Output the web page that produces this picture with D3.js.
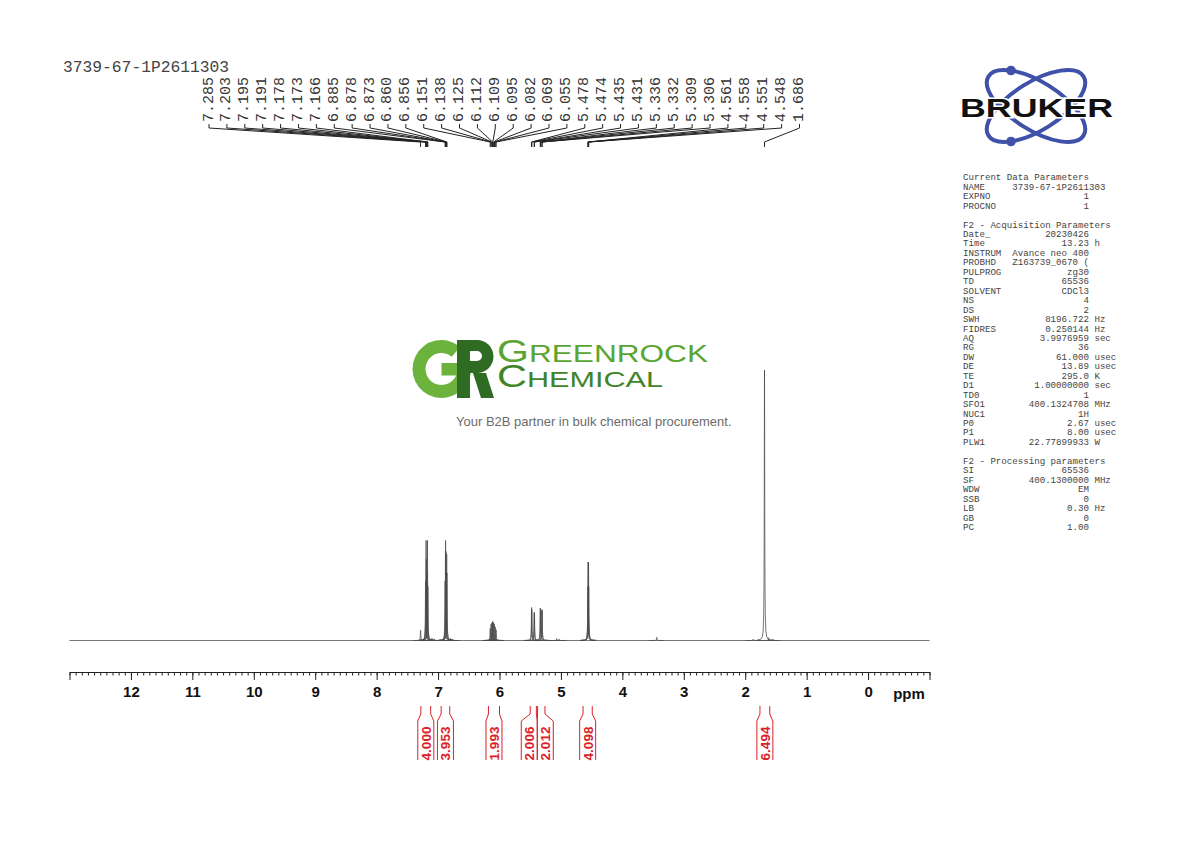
<!DOCTYPE html>
<html><head><meta charset="utf-8">
<script src="https://cdn.jsdelivr.net/npm/d3@7"></script>
<style>
html,body{margin:0;padding:0;background:#fff;}
svg{display:block;}
.mono{font-family:"Liberation Mono","DejaVu Sans Mono",monospace;}
.sans{font-family:"Liberation Sans",Arial,sans-serif;}
</style></head>
<body>
<svg id="c" width="1190" height="842" xmlns="http://www.w3.org/2000/svg"></svg>
<script>
// ---------------- data ----------------
const sampleName = "3739-67-1P2611303";

// peak picking labels (ppm)
const peakLabels = [7.285,7.203,7.195,7.191,7.178,7.173,7.166,6.885,6.878,6.873,6.860,6.856,
  6.151,6.138,6.125,6.112,6.109,6.095,6.082,6.069,6.055,5.478,5.474,5.435,5.431,
  5.336,5.332,5.309,5.306,4.561,4.558,4.551,4.548,1.686];

// spectrum lines: position (ppm) and intensity (relative, tallest = 100)
const peakPpm = [7.285,7.203,7.195,7.191,7.178,7.173,7.166,7.10,7.06,
  6.885,6.878,6.873,6.860,6.856,6.80,6.77,
  6.151,6.138,6.125,6.112,6.109,6.095,6.082,6.069,6.055,
  5.478,5.474,5.435,5.431,5.336,5.332,5.309,5.306,5.07,5.03,
  4.561,4.558,4.551,4.548,3.44,1.87,1.686,1.62,1.55];
const peakInt = [3.8,22,37,30,25,37,20,0.8,0.6,
  22,37,33,32,25,0.8,0.5,
  4.5,6,6.5,7,7,6.5,6,5,4,
  12.2,11.5,10.5,10,12,11.5,11.5,11,0.7,0.5,
  20,29,29,20,1.2,0.5,100,1.0,0.6];

// integrals
const integralFrom = [7.28,6.95,6.18,5.50,5.38,4.64,1.76];
const integralTo   = [7.12,6.81,6.00,5.40,5.26,4.49,1.60];
const integralVal  = ["4.000","3.953","1.993","2.006","2.012","4.098","6.494"];

// axis
const axisDomain = [13,-1];
const majorTicks = [12,11,10,9,8,7,6,5,4,3,2,1,0];

// parameter panel
const paramHead1 = "Current Data Parameters";
const paramRows1 = [["NAME","3739-67-1P2611303",""],["EXPNO","1",""],["PROCNO","1",""]];
const paramHead2 = "F2 - Acquisition Parameters";
const paramRows2 = [["Date_","20230426",""],["Time","13.23","h"],["INSTRUM","Avance neo 400",""],
  ["PROBHD","Z163739_0670 (",""],["PULPROG","zg30",""],["TD","65536",""],["SOLVENT","CDCl3",""],
  ["NS","4",""],["DS","2",""],["SWH","8196.722","Hz"],["FIDRES","0.250144","Hz"],
  ["AQ","3.9976959","sec"],["RG","36",""],["DW","61.000","usec"],["DE","13.89","usec"],
  ["TE","295.0","K"],["D1","1.00000000","sec"],["TD0","1",""],["SFO1","400.1324708","MHz"],
  ["NUC1","1H",""],["P0","2.67","usec"],["P1","8.00","usec"],["PLW1","22.77899933","W"]];
const paramHead3 = "F2 - Processing parameters";
const paramRows3 = [["SI","65536",""],["SF","400.1300000","MHz"],["WDW","EM",""],["SSB","0",""],
  ["LB","0.30","Hz"],["GB","0",""],["PC","1.00",""]];

// ---------------- drawing ----------------
const svg = d3.select("#c");
const x = d3.scaleLinear().domain(axisDomain).range([69.5, 929.5]);
const y = d3.scaleLinear().domain([0,100]).range([640.5, 370]);
const specColor = "#4a4a4a";

// title
svg.append("text").attr("class","mono").attr("x",63).attr("y",72)
  .style("font-size","16.3px").attr("fill","#444").text(sampleName);

// peak labels + connectors
const lx = d3.scaleLinear().domain([0, peakLabels.length-1]).range([209, 799.5]);
const gl = svg.append("g");
gl.selectAll("text").data(peakLabels).join("text").attr("class","mono")
  .attr("transform",(d,i)=>`translate(${lx(i)},122) rotate(-90)`)
  .attr("dominant-baseline","central").style("font-size","15px").attr("fill","#333")
  .text(d=>d.toFixed(3));
gl.selectAll("path").data(peakLabels).join("path")
  .attr("d",(d,i)=>`M${lx(i)},124V128L${x(d)},142V147`)
  .attr("fill","none").attr("stroke","#222").attr("stroke-width",1);

// spectrum baseline
const line = d3.line().x(d=>x(d[0])).y(d=>y(d[1]));
svg.append("path").attr("d", line([[axisDomain[0],0],[axisDomain[1],0]]))
  .attr("stroke","#555").attr("stroke-width",0.8).attr("fill","none");
// peaks (Lorentzian-shaped glyph at each line position)
const shapeK = [-30,-14,-8,-5,-3,-2,-1.4,-1,-0.6,-0.3,0,0.3,0.6,1,1.4,2,3,5,8,14,30];
const hw = 0.0042;
svg.append("g").selectAll("path").data(peakPpm.map((p,i)=>[p,peakInt[i]])).join("path")
  .attr("d", d => line(shapeK.map(k=>[d[0]+k*hw, d[1]/(1+k*k)])))
  .attr("stroke",specColor).attr("stroke-width",0.75).attr("fill","none");

// axis
const axisY = 672;
const gAx = svg.append("g").attr("transform",`translate(0,${axisY})`);
gAx.call(d3.axisBottom(x).tickValues(d3.range(-10,131).map(i=>i/10)).tickSize(3.5).tickFormat(""))
  .call(g=>g.select(".domain").remove());
const gMaj = svg.append("g").attr("transform",`translate(0,${axisY})`);
gMaj.call(d3.axisBottom(x).tickValues(majorTicks).tickSize(8).tickSizeOuter(8).tickPadding(6).tickFormat(d3.format("d")));
svg.selectAll(".tick line, .domain").attr("stroke","#222");
gMaj.selectAll("text").attr("class","sans").style("font-size","15px").style("font-weight","bold").attr("fill","#111");
svg.append("text").attr("class","sans").attr("x",909).attr("y",698.5).attr("text-anchor","middle")
  .style("font-size","15px").style("font-weight","bold").attr("fill","#111").text("ppm");

// integrals
const red = "#dc2128";
const cen = integralFrom.map((f,i)=>(x(f)+x(integralTo[i]))/2);
const half = 8;
for (let i=1;i<cen.length;i++){ const d=cen[i]-cen[i-1]; if(d<2*half){const s=(2*half-d)/2; cen[i-1]-=s; cen[i]+=s;} }
const gi = svg.append("g");
integralFrom.forEach((f,i)=>{
  const xa=x(f), xb=x(integralTo[i]), c=cen[i];
  gi.append("path").attr("d",`M${xa},706V714L${c-half},721V760M${xb},706V714L${c+half},721V760`)
    .attr("fill","none").attr("stroke",red).attr("stroke-width",1);
  gi.append("text").attr("class","sans").attr("transform",`translate(${c+0.5},743.5) rotate(-90)`)
    .attr("text-anchor","middle").attr("dominant-baseline","central")
    .style("font-size","13.5px").style("font-weight","bold").attr("fill",red).text(integralVal[i]);
});

// parameter panel
const rows = [];
rows.push(paramHead1);
paramRows1.forEach(r=>rows.push(r));
rows.push("");
rows.push(paramHead2);
paramRows2.forEach(r=>rows.push(r));
rows.push("");
rows.push(paramHead3);
paramRows3.forEach(r=>rows.push(r));
const fmt = r => typeof r==="string" ? r : (r[0].padEnd(9) + r[1].padStart(14) + (r[2] ? " "+r[2] : ""));
svg.append("g").selectAll("text").data(rows).join("text").attr("class","mono")
  .attr("x",963).attr("y",(d,i)=>180.3+i*9.45).attr("xml:space","preserve")
  .style("white-space","pre").style("font-size","9.13px").attr("fill","#444")
  .text(fmt);

// Bruker logo
const gb = svg.append("g");
[32,-32].forEach(a=>{
  gb.append("ellipse").attr("cx",1036).attr("cy",106).attr("rx",56).attr("ry",24)
    .attr("transform",`rotate(${a},1036,106)`).attr("fill","none").attr("stroke","#3f51a8").attr("stroke-width",4);
});
gb.append("circle").attr("cx",1011).attr("cy",70.5).attr("r",4.8).attr("fill","#3f51a8");
gb.append("circle").attr("cx",1011).attr("cy",141.5).attr("r",4.8).attr("fill","#3f51a8");
gb.append("text").attr("class","sans").attr("x",960).attr("y",117)
  .attr("textLength",153).attr("lengthAdjust","spacingAndGlyphs")
  .style("font-size","25.5px").style("font-weight","900")
  .attr("fill","#111").attr("stroke","#fff").attr("stroke-width",3).style("paint-order","stroke")
  .text("BRUKER");

// Greenrock watermark
const gg = svg.append("g");
const ring = d3.arc()({innerRadius:16,outerRadius:29,startAngle:Math.PI/2,endAngle:2*Math.PI+0.7});
gg.append("path").attr("d",ring).attr("transform","translate(441.5,369)").attr("fill","#6cb33e");
gg.append("rect").attr("x",441.5).attr("y",363).attr("width",29).attr("height",12.5).attr("fill","#6cb33e");
gg.append("path").attr("fill","#2f6b22").attr("fill-rule","evenodd")
  .attr("d","M457,340H477A16.5,16.5 0 0 1 477,373H470V398H457Z M470,351H477A5,5 0 0 1 477,361H470Z M473,373H486L494,398H481Z");
gg.append("text").attr("class","sans").attr("x",497).attr("y",362)
  .attr("textLength",211).attr("lengthAdjust","spacingAndGlyphs").attr("fill","#5aa532")
  .call(t=>{t.append("tspan").style("font-size","30.5px").text("G");
            t.append("tspan").style("font-size","23.5px").text("REENROCK");});
gg.append("text").attr("class","sans").attr("x",497).attr("y",386.5)
  .attr("textLength",166).attr("lengthAdjust","spacingAndGlyphs").attr("fill","#3f8426")
  .call(t=>{t.append("tspan").style("font-size","30.5px").text("C");
            t.append("tspan").style("font-size","22.5px").text("HEMICAL");});
gg.append("text").attr("class","sans").attr("x",456).attr("y",426)
  .style("font-size","13px").attr("fill","#6b6b6b")
  .text("Your B2B partner in bulk chemical procurement.");
</script>
</body></html>
